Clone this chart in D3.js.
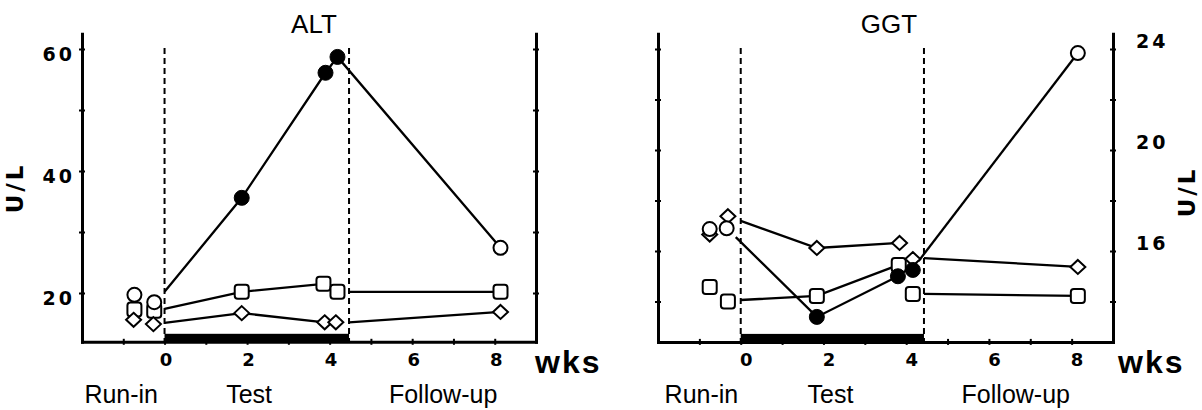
<!DOCTYPE html>
<html>
<head>
<meta charset="utf-8">
<script src="https://cdn.jsdelivr.net/npm/d3@7"></script>
<style>
  html, body { margin: 0; padding: 0; background: #fff; }
  svg { display: block; }
  .num { font-family: "DejaVu Sans", "Liberation Sans", Arial, sans-serif; font-weight: bold; }
  .wks { font-family: "Liberation Sans", Arial, sans-serif; font-weight: bold; }
  .reg { font-family: "Liberation Sans", Arial, sans-serif; }
</style>
</head>
<body>
<svg id="chart" width="1202" height="410"></svg>
<script>
// ---------------- DATA ----------------
const weekTicks = [-1, 0, 1, 2, 3, 4, 5, 6, 7, 8];
const weekLabels = [0, 2, 4, 6, 8];
const periodNames = ["Run-in", "Test", "Follow-up"];

// ALT (U/L)
const altTicks = [20, 30, 40, 50, 60];
const altLabels = [20, 40, 60];
const altTestPeriod = [0, 4.47];
// circles: open in run-in / follow-up, filled during test
const altCircleRunIn = [[-0.73, 19.7], [-0.25, 18.5]];
const altCircleTest = [[1.87, 35.6], [3.9, 56.1], [4.19, 58.7]];
const altCircleFollow = [[8.14, 27.4]];
const altCircleLine = [[0, 20.2], [1.87, 35.6], [3.9, 56.1], [4.19, 58.7], [8.14, 27.4]];
// squares
const altSquareRunIn = [[-0.73, 17.3], [-0.25, 17.1]];
const altSquareTest = [[1.87, 20.2], [3.85, 21.5], [4.19, 20.2]];
const altSquareFollow = [[8.14, 20.2]];
const altSquareLine = [[0, 17.4], [1.87, 20.2], [3.85, 21.5], [4.19, 20.2]];
const altSquareLine2 = [[4.47, 20.2], [8.14, 20.2]];
// diamonds
const altDiamondRunIn = [[-0.75, 15.6], [-0.27, 14.9]];
const altDiamondTest = [[1.87, 16.7], [3.88, 15.2], [4.15, 15.2]];
const altDiamondFollow = [[8.14, 16.9]];
const altDiamondLine = [[0, 15.1], [1.87, 16.7], [3.88, 15.2]];
const altDiamondLine2 = [[4.47, 15.2], [8.14, 16.9]];

// GGT (U/L)
const ggtTicks = [14, 16, 18, 20, 22, 24];
const ggtLabels = [16, 20, 24];
const ggtTestPeriod = [0, 4.43];
const ggtCircleRunIn = [[-0.75, 16.87], [-0.34, 16.9]];
const ggtCircleTest = [[1.84, 13.39], [3.8, 15.0], [4.16, 15.25]];
const ggtCircleFollow = [[8.15, 23.84]];
const ggtCircleLine = [[-0.12, 16.55], [1.84, 13.39], [3.8, 15.0]];
const ggtCircleLine2 = [[4.3, 15.6], [8.15, 23.84]];
const ggtSquareRunIn = [[-0.75, 14.57], [-0.31, 14.0]];
const ggtSquareTest = [[1.84, 14.22], [3.82, 15.45], [4.16, 14.3]];
const ggtSquareFollow = [[8.15, 14.22]];
const ggtSquareLine = [[0, 14.06], [1.84, 14.22], [3.82, 15.45]];
const ggtSquareLine2 = [[4.43, 14.3], [8.15, 14.22]];
const ggtDiamondRunIn = [[-0.75, 16.65], [-0.31, 17.38]];
const ggtDiamondTest = [[1.84, 16.12], [3.84, 16.32], [4.16, 15.68]];
const ggtDiamondFollow = [[8.15, 15.37]];
const ggtDiamondLine = [[0, 17.19], [1.84, 16.12], [3.84, 16.32]];
const ggtDiamondLine2 = [[4.43, 15.72], [8.15, 15.37]];

// ---------------- LAYOUT ----------------
const svg = d3.select("#chart");

const panels = [
  {
    title: "ALT", titleX: 314,
    xRange: [82, 536], xDomain: [-2, 9],
    yDomain: [12, 62.5], yRange: [341.8, 33.75],
    ticks: altTicks, labels: altLabels, labelSide: "left",
    testPeriod: altTestPeriod,
    labelDx: 1,
    periodPos: [-1.05, 2.05, 6.75],
    unitX: 15, unitY: 188,
    wksX: 535,
    lines: [altCircleLine, altSquareLine, altSquareLine2, altDiamondLine, altDiamondLine2],
    open: [altCircleRunIn, altCircleFollow],
    filled: [altCircleTest],
    squares: [altSquareRunIn, altSquareTest, altSquareFollow],
    diamonds: [altDiamondRunIn, altDiamondTest, altDiamondFollow]
  },
  {
    title: "GGT", titleX: 889,
    xRange: [658, 1113], xDomain: [-2, 9],
    yDomain: [12.4, 24.6], yRange: [341.9, 33.85],
    ticks: ggtTicks, labels: ggtLabels, labelSide: "right",
    testPeriod: ggtTestPeriod,
    labelDx: 5,
    periodPos: [-0.95, 2.17, 6.65],
    unitX: 1187, unitY: 192,
    wksX: 1118,
    lines: [ggtCircleLine, ggtCircleLine2, ggtSquareLine, ggtSquareLine2, ggtDiamondLine, ggtDiamondLine2],
    open: [ggtCircleRunIn, ggtCircleFollow],
    filled: [ggtCircleTest],
    squares: [ggtSquareRunIn, ggtSquareTest, ggtSquareFollow],
    diamonds: [ggtDiamondRunIn, ggtDiamondTest, ggtDiamondFollow]
  }
];

panels.forEach(p => {
  const x = d3.scaleLinear().domain(p.xDomain).range(p.xRange);
  const y = d3.scaleLinear().domain(p.yDomain).range(p.yRange);
  const yBottom = p.yRange[0];
  const g = svg.append("g");

  // title
  g.append("text").attr("class", "reg")
    .attr("x", p.titleX).attr("y", 33)
    .attr("text-anchor", "middle").attr("font-size", 26)
    .text(p.title);

  // test-period bar
  g.append("rect")
    .attr("x", x(p.testPeriod[0]))
    .attr("width", x(p.testPeriod[1]) - x(p.testPeriod[0]))
    .attr("y", yBottom - 8).attr("height", 8)
    .attr("fill", "#000");

  // dashed period boundaries
  g.selectAll("line.dash").data(p.testPeriod).join("line")
    .attr("class", "dash")
    .attr("x1", d => x(d)).attr("x2", d => x(d))
    .attr("y1", 48).attr("y2", yBottom)
    .attr("stroke", "#000").attr("stroke-width", 2)
    .attr("stroke-dasharray", "6,4");

  // axes
  const fmt = d => p.labels.includes(d) ? d : "";
  const leftAx = g.append("g").attr("transform", `translate(${p.xRange[0]},0)`)
    .call(d3.axisLeft(y).tickValues(p.ticks).tickSize(3).tickSizeOuter(0)
      .tickFormat(p.labelSide === "left" ? fmt : () => ""));
  const rightAx = g.append("g").attr("transform", `translate(${p.xRange[1]},0)`)
    .call(d3.axisRight(y).tickValues(p.ticks).tickSize(3).tickSizeOuter(0)
      .tickFormat(p.labelSide === "right" ? fmt : () => ""));
  const botAx = g.append("g").attr("transform", `translate(0,${yBottom})`)
    .call(d3.axisBottom(x).tickValues(weekTicks).tickSize(3).tickSizeOuter(0)
      .tickFormat(d => weekLabels.includes(d) ? d : ""));

  [leftAx, rightAx, botAx].forEach(a => {
    a.select(".domain").attr("stroke", "#000").attr("stroke-width", 3)
      .attr("stroke-linecap", "square");
    a.selectAll(".tick line").attr("stroke", "#000").attr("stroke-width", 2);
    a.selectAll("text").attr("class", "num").attr("fill", "#000")
      .attr("font-family", null);
  });
  leftAx.selectAll(".tick line").attr("x1", 3);
  rightAx.selectAll(".tick line").attr("x1", -3);
  botAx.selectAll(".tick line").attr("y1", -3);

  leftAx.selectAll("text").attr("font-size", 19).attr("letter-spacing", 3)
    .attr("x", -7).attr("y", 5);
  rightAx.selectAll("text").attr("font-size", 19).attr("letter-spacing", 3)
    .attr("x", 23).attr("y", -8);
  botAx.selectAll("text").attr("font-size", 18).attr("y", 11)
    .attr("x", p.labelDx);

  // "wks"
  g.append("text").attr("class", "wks")
    .attr("x", p.wksX).attr("y", 373)
    .attr("font-size", 32).attr("letter-spacing", 2)
    .text("wks");

  // U/L
  g.append("text").attr("class", "num")
    .attr("transform", `translate(${p.unitX},${p.unitY}) rotate(-90)`)
    .attr("text-anchor", "middle").attr("dominant-baseline", "central")
    .attr("font-size", 23).attr("letter-spacing", 3)
    .text("U/L");

  // period names
  g.selectAll("text.period").data(periodNames).join("text")
    .attr("class", "reg")
    .attr("x", (d, i) => x(p.periodPos[i])).attr("y", 403)
    .attr("text-anchor", "middle").attr("font-size", 25)
    .text(d => d);

  // lines
  const line = d3.line().x(d => x(d[0])).y(d => y(d[1]));
  g.selectAll("path.series").data(p.lines).join("path")
    .attr("class", "series")
    .attr("d", line).attr("fill", "none")
    .attr("stroke", "#000").attr("stroke-width", 2.3);

  // markers
  const sq = 14;
  p.squares.forEach(arr => {
    g.selectAll(null).data(arr).join("rect")
      .attr("x", d => x(d[0]) - sq / 2).attr("y", d => y(d[1]) - sq / 2)
      .attr("width", sq).attr("height", sq).attr("rx", 3)
      .attr("fill", "#fff").attr("stroke", "#000").attr("stroke-width", 2);
  });
  p.diamonds.forEach(arr => {
    g.selectAll(null).data(arr).join("path")
      .attr("d", d => {
        const cx = x(d[0]), cy = y(d[1]);
        return `M${cx},${cy - 7}L${cx + 7.5},${cy}L${cx},${cy + 7}L${cx - 7.5},${cy}Z`;
      })
      .attr("fill", "#fff").attr("stroke", "#000").attr("stroke-width", 2);
  });
  p.open.forEach(arr => {
    g.selectAll(null).data(arr).join("circle")
      .attr("cx", d => x(d[0])).attr("cy", d => y(d[1])).attr("r", 7)
      .attr("fill", "#fff").attr("stroke", "#000").attr("stroke-width", 2);
  });
  p.filled.forEach(arr => {
    g.selectAll(null).data(arr).join("circle")
      .attr("cx", d => x(d[0])).attr("cy", d => y(d[1])).attr("r", 7.5)
      .attr("fill", "#000").attr("stroke", "#000").attr("stroke-width", 1);
  });
});
</script>
</body>
</html>
